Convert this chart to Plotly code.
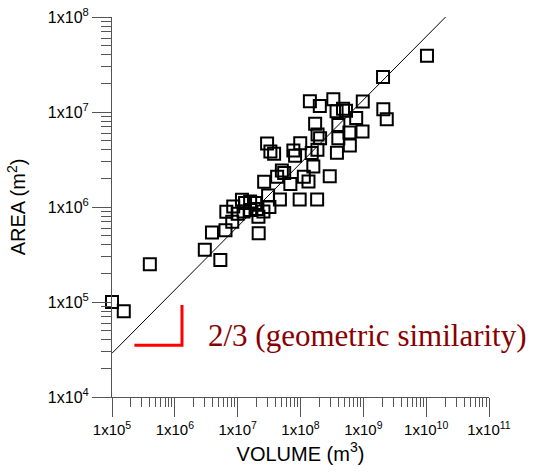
import plotly.graph_objects as go

# ---- data ----
volume = [1.0e5, 1.54e5, 4.0e5, 3.0e6, 5.3e6, 3.9e6, 6.4e6, 2.16e7, 2.14e7, 8.2e6,
          6.6e6, 8.5e6, 1.0e7, 1.17e7, 1.31e7, 1.58e7, 1.9e7, 1.24e7, 1.58e7, 2.02e7,
          2.57e7, 3.2e7, 3.05e7, 4.7e7, 9.7e7, 1.84e8, 2.64e7, 4.25e7, 5.05e7, 5.5e7,
          6.9e7, 1.13e8, 1.34e8, 1.6e8, 2.92e8, 2.94e7, 3.32e7, 3.8e7, 7.7e7, 9.9e7,
          8.2e7, 1.51e8, 1.86e8, 3.8e8, 1.87e8, 2.05e8, 4.0e8, 6.0e8, 6.1e8, 9.7e8,
          1.71e8, 4.0e8, 7.7e8, 1.41e8, 2.03e8, 3.33e8, 3.75e8, 4.75e8, 5.3e8, 9.8e8,
          2.06e9, 2.08e9, 2.36e9, 1.03e10]
area = [1.0e5, 8.0e4, 2.5e5, 3.55e5, 2.77e5, 5.4e5, 5.7e5, 5.3e5, 7.9e5, 7.0e5,
        8.9e5, 1.01e6, 8.5e5, 1.19e6, 1.10e6, 1.14e6, 1.10e6, 8.95e5, 9.3e5, 9.55e5,
        8.95e5, 1.0e6, 1.32e6, 1.2e6, 1.2e6, 1.2e6, 1.84e6, 2.08e6, 2.42e6, 2.28e6,
        1.75e6, 2.08e6, 1.85e6, 2.67e6, 2.11e6, 4.67e6, 3.84e6, 3.63e6, 3.94e6, 4.7e6,
        3.46e6, 3.7e6, 4.0e6, 3.72e6, 5.8e6, 5.3e6, 5.3e6, 6.1e6, 4.45e6, 6.24e6,
        7.5e6, 7.3e6, 8.65e6, 1.3e7, 1.16e7, 1.36e7, 1.02e7, 1.08e7, 1.03e7, 1.29e7,
        2.33e7, 1.07e7, 8.4e6, 3.9e7]

# fitted power law A = k * V^(2/3)
fit_exponent = 2.0 / 3.0
fit_coef = 13.4
fit_v = [1.0e5, 2.05e10]
fit_a = [fit_coef * v ** fit_exponent for v in fit_v]

# slope indicator (red L)
slope_v = [2.27e5, 1.3e6, 1.3e6]
slope_a = [3.5e4, 3.5e4, 9.3e4]
slope_label = "2/3 (geometric similarity)"

x_exps = [5, 6, 7, 8, 9, 10, 11]
y_exps = [4, 5, 6, 7, 8]
x_ticktext = ["1x10<sup>%d</sup>" % e for e in x_exps]
y_ticktext = ["1x10<sup>%d</sup>" % e for e in y_exps]
x_tickvals = [10.0 ** e for e in x_exps]
y_tickvals = [10.0 ** e for e in y_exps]
x_minor = [k * 10.0 ** e for e in x_exps[:-1] for k in range(2, 10)]
y_minor = [k * 10.0 ** e for e in y_exps[:-1] for k in range(2, 10)]

FONT = "Arial, Liberation Sans, sans-serif"
AXC = "#555555"

fig = go.Figure()
fig.add_trace(go.Scatter(x=fit_v, y=fit_a, mode="lines",
                         line=dict(color="black", width=1), showlegend=False,
                         cliponaxis=False))
fig.add_trace(go.Scatter(x=volume, y=area, mode="markers",
                         marker=dict(symbol="square-open", size=12, color="black",
                                     line=dict(width=2, color="black")),
                         showlegend=False, cliponaxis=False))
fig.add_trace(go.Scatter(x=slope_v, y=slope_a, mode="lines",
                         line=dict(color="#ff0000", width=3), showlegend=False))

fig.add_annotation(text=slope_label, xref="paper", yref="paper",
                   x=0.250, y=0.162, xanchor="left", yanchor="middle",
                   showarrow=False,
                   font=dict(family="Liberation Serif, Times New Roman, serif",
                             size=31, color="#880000"))

fig.update_xaxes(type="log", range=[5, 11], showgrid=False, zeroline=False,
                 showline=True, linecolor=AXC, linewidth=1,
                 tickmode="array", tickvals=x_tickvals, ticktext=x_ticktext,
                 ticks="outside", ticklen=19, tickwidth=1, tickcolor=AXC,
                 tickfont=dict(family=FONT, size=15, color="black"),
                 minor=dict(tickmode="array", tickvals=x_minor, ticks="outside",
                            ticklen=9, tickwidth=1, tickcolor=AXC, showgrid=False),
                 title=dict(text="VOLUME (m<sup>3</sup>)",
                            font=dict(family=FONT, size=20, color="black"),
                            standoff=9))
fig.update_yaxes(type="log", range=[4, 8], showgrid=False, zeroline=False,
                 showline=True, linecolor=AXC, linewidth=1,
                 tickmode="array", tickvals=y_tickvals, ticktext=y_ticktext,
                 ticks="outside", ticklen=19, tickwidth=1, tickcolor=AXC,
                 tickfont=dict(family=FONT, size=16, color="black"),
                 minor=dict(tickmode="array", tickvals=y_minor, ticks="outside",
                            ticklen=10, tickwidth=1, tickcolor=AXC, showgrid=False),
                 title=dict(text="AREA (m<sup>2</sup>)",
                            font=dict(family=FONT, size=20, color="black"),
                            standoff=16))

fig.update_layout(width=536, height=473,
                  margin=dict(l=112, r=47, t=17, b=76, autoexpand=False),
                  plot_bgcolor="white", paper_bgcolor="white")

fig.write_html("out.html")
